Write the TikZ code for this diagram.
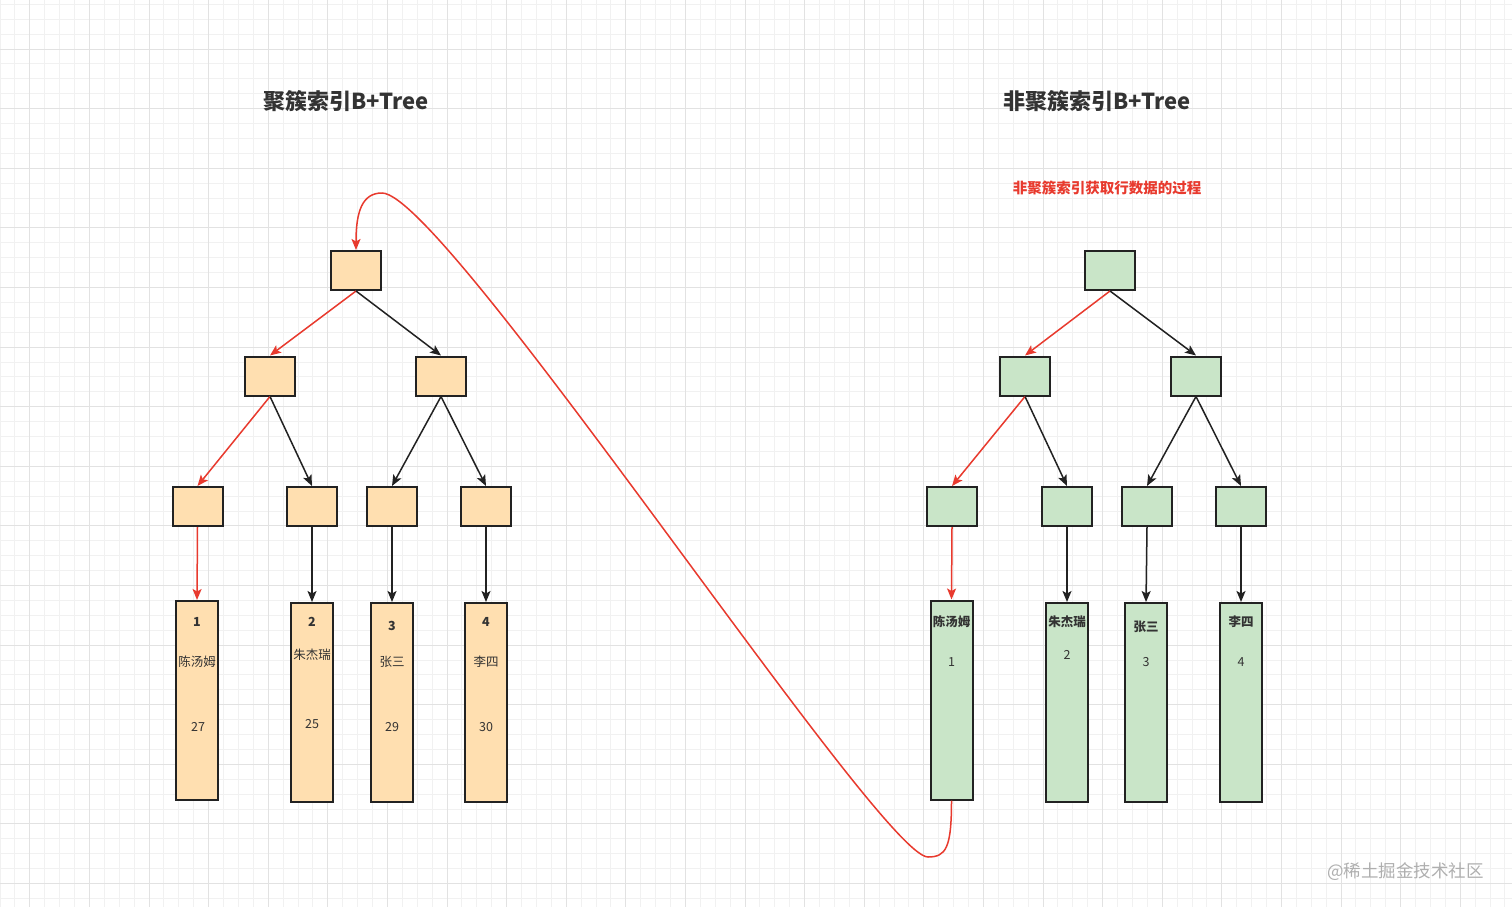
\documentclass[tikz,border=0pt]{standalone}
\usepackage{fontspec}
\setmainfont{Noto Sans CJK SC}
\usetikzlibrary{arrows.meta}
\definecolor{gridminor}{RGB}{241,241,241}
\definecolor{gridmajor}{RGB}{226,226,226}
\definecolor{orangefill}{RGB}{255,223,176}
\definecolor{greenfill}{RGB}{201,229,200}
\definecolor{edgered}{RGB}{232,58,46}
\definecolor{ink}{RGB}{34,34,34}
\definecolor{txt}{RGB}{51,51,51}
\definecolor{wm}{RGB}{175,175,175}
\tikzset{
  box/.style={draw=ink, line width=2pt, inner sep=0pt, minimum width=50pt, minimum height=39pt},
  obox/.style={box, fill=orangefill},
  gbox/.style={box, fill=greenfill},
  leafbox/.style={draw=ink, line width=2pt, inner sep=0pt, minimum width=42pt, minimum height=199pt},
  oleaf/.style={leafbox, fill=orangefill},
  gleaf/.style={leafbox, fill=greenfill},
  conn/.style={line width=1.5pt, draw=ink, -{Stealth[length=11pt,width=9pt,inset=2.5pt]}},
  rconn/.style={conn, draw=edgered},
  lt/.style={text=txt, font=\fontsize{12.5}{14}\selectfont, inner sep=0pt},
  ltb/.style={lt, font=\fontsize{12.5}{14}\selectfont\bfseries},
  title/.style={text=txt, font=\fontsize{22}{26}\selectfont\bfseries, inner sep=0pt},
}
\begin{document}
\begin{tikzpicture}[x=1pt,y=-1pt]
\fill[white] (0,0) rectangle (1512,907);
\useasboundingbox (0,0) rectangle (1512,907);
% grid
\foreach \i in {0,...,102} {\draw[gridminor, line width=0.8pt] ({\i*14.9-0.1},0) -- ({\i*14.9-0.1},907);}
\foreach \i in {0,...,61} {\draw[gridminor, line width=0.8pt] (0,{\i*14.9+4.3}) -- (1512,{\i*14.9+4.3});}
\foreach \i in {0,...,25} {\draw[gridmajor, line width=0.8pt] ({\i*59.6+29.7},0) -- ({\i*59.6+29.7},907);}
\foreach \i in {0,...,14} {\draw[gridmajor, line width=0.8pt] (0,{\i*59.6+49}) -- (1512,{\i*59.6+49});}

% titles
\node[title] (t1) at (346,101) {聚簇索引B+Tree};
\node[title] (t2) at (1097,101) {非聚簇索引B+Tree};
\node[text=edgered, font=\fontsize{14.5}{17}\selectfont\bfseries, inner sep=0pt] (t3) at (1107,188) {非聚簇索引获取行数据的过程};
\node[text=wm, font=\fontsize{17.5}{20}\selectfont, inner sep=0pt, anchor=west] (wmark) at (1327,872) {@稀土掘金技术社区};

% left tree
\node[obox] (lr) at (356,270.5) {};
\node[obox] (la) at (270,376) {};
\node[obox] (lb) at (441,376) {};
\node[obox] (l1) at (197.5,506.5) {};
\node[obox] (l2) at (312,506.5) {};
\node[obox] (l3) at (392,506.5) {};
\node[obox] (l4) at (486,506.5) {};
\node[oleaf] (lf1) at (197,700.5) {};
\node[oleaf] (lf2) at (312,702.5) {};
\node[oleaf] (lf3) at (392,702.5) {};
\node[oleaf] (lf4) at (486,702.5) {};

\draw[rconn] (lr.south) -- (la.north);
\draw[conn] (lr.south) -- (lb.north);
\draw[rconn] (la.south) -- (l1.north);
\draw[conn] (la.south) -- (l2.north);
\draw[conn] (lb.south) -- (l3.north);
\draw[conn] (lb.south) -- (l4.north);
\draw[rconn] (l1.south) -- (lf1.north);
\draw[conn] (l2.south) -- (lf2.north);
\draw[conn] (l3.south) -- (lf3.north);
\draw[conn] (l4.south) -- (lf4.north);

\node[ltb] (lf1a) at (197,622) {1};
\node[lt] (lf1b) at (197,662) {陈汤姆};
\node[lt] (lf1c) at (198,727) {27};
\node[ltb] (lf2a) at (312,622) {2};
\node[lt] (lf2b) at (312,655) {朱杰瑞};
\node[lt] (lf2c) at (312,724) {25};
\node[ltb] (lf3a) at (392,626) {3};
\node[lt] (lf3b) at (392,662) {张三};
\node[lt] (lf3c) at (392,727) {29};
\node[ltb] (lf4a) at (486,622) {4};
\node[lt] (lf4b) at (486,662) {李四};
\node[lt] (lf4c) at (486,727) {30};

% right tree
\node[gbox] (rr) at (1110,270.5) {};
\node[gbox] (ra) at (1025,376) {};
\node[gbox] (rb) at (1196,376) {};
\node[gbox] (r1) at (952,506.5) {};
\node[gbox] (r2) at (1067,506.5) {};
\node[gbox] (r3) at (1147,506.5) {};
\node[gbox] (r4) at (1241,506.5) {};
\node[gleaf] (rf1) at (951.5,700) {};
\node[gleaf] (rf2) at (1067,702.5) {};
\node[gleaf] (rf3) at (1146,702.5) {};
\node[gleaf] (rf4) at (1241,702.5) {};

\draw[rconn] (rr.south) -- (ra.north);
\draw[conn] (rr.south) -- (rb.north);
\draw[rconn] (ra.south) -- (r1.north);
\draw[conn] (ra.south) -- (r2.north);
\draw[conn] (rb.south) -- (r3.north);
\draw[conn] (rb.south) -- (r4.north);
\draw[rconn] (r1.south) -- (rf1.north);
\draw[conn] (r2.south) -- (rf2.north);
\draw[conn] (r3.south) -- (rf3.north);
\draw[conn] (r4.south) -- (rf4.north);

\node[ltb] (rf1a) at (951.5,622) {陈汤姆};
\node[lt] (rf1b) at (951.5,662) {1};
\node[ltb] (rf2a) at (1067,622) {朱杰瑞};
\node[lt] (rf2b) at (1067,655) {2};
\node[ltb] (rf3a) at (1146,627) {张三};
\node[lt] (rf3b) at (1146,662) {3};
\node[ltb] (rf4a) at (1241,622) {李四};
\node[lt] (rf4b) at (1241,662) {4};

% long curved connector
\coordinate (cbot) at (928,857);
\coordinate (ctop) at (382,193);
\draw[rconn] (rf1.south) .. controls (951.5,848) and (946,857) .. (cbot)
  .. controls (880,857) and (445,193) .. (ctop)
  .. controls (362,193) and (356,212) .. (lr.north);
\end{tikzpicture}
\end{document}
